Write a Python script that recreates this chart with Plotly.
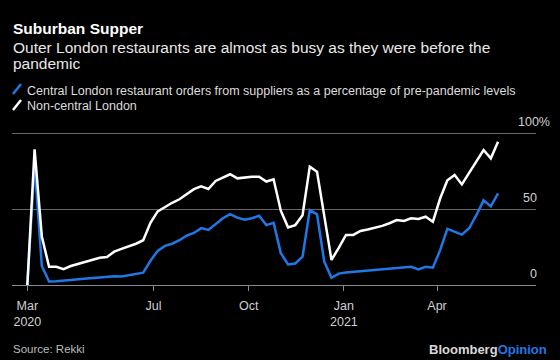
import pandas as pd
import plotly.graph_objects as go

# ---- data (weekly, % of pre-pandemic levels) ----
start_date = "2020-03-01"
central = [0, 80, 12.5, 2.3, 2.5, 3, 3.3, 3.8, 4.2, 4.6,
           5, 5.5, 5.8, 5.6, 6.5, 7.5, 8.1, 16, 22.5, 25.8,
           27.2, 29.5, 32.5, 34.3, 37.5, 36.3, 40, 44, 46.7, 44.4,
           43, 44, 45.6, 39.5, 41, 21, 13.6, 14.2, 18.7, 49.4,
           46.6, 15.4, 4.8, 7.5, 8.3, 8.7, 9.4, 9.9, 10.3, 10.5,
           11.2, 11.4, 11.6, 12, 10.3, 12, 11.4, 23, 37, 35.3,
           33.2, 37.4, 46, 55.8, 51.8, 60.4]
noncentral = [0, 89.5, 32, 12, 12, 10.5, 12.5, 13.8, 15.4, 16.9,
              18, 18.5, 22, 23.8, 25.5, 27.2, 29.5, 41, 48.5, 51.6,
              54.2, 56.5, 60, 63.2, 65, 63.3, 68.6, 70.6, 73, 70.3,
              71, 71.4, 71.4, 68.2, 69.7, 49, 38, 39.5, 46, 78,
              74.7, 45, 16.5, 24.5, 33, 33, 35.6, 36.6, 37.6, 39,
              40.7, 42.8, 42.2, 44, 43.5, 45, 41.7, 57, 69, 72.5,
              66.3, 74, 81, 89, 83.5, 94.5]
dates = pd.date_range(start=start_date, periods=len(central), freq="7D")

tick_vals = ["2020-03-01", "2020-07-01", "2020-10-01", "2021-01-01", "2021-04-01"]
tick_text = ["Mar<br>2020", "Jul", "Oct", "Jan<br>2021", "Apr"]
y_ticks = [0, 50, 100]
y_labels = ["0", "50", "100%"]

title = "Suburban Supper"
subtitle_lines = ["Outer London restaurants are almost as busy as they were before the",
                  "pandemic"]
legend_central = "Central London restaurant orders from suppliers as a percentage of pre-pandemic levels"
legend_noncentral = "Non-central London"
source = "Source: Rekki"

BLUE = "#1f78e6"
FONT = "Liberation Sans, Arial, sans-serif"

W, H = 560, 360
L, R, T, B = 12, 24, 132, 75
PW, PH = W - L - R, H - T - B
Y_MAX = 100 * (H - B - T) / (285 - 133.3)


def px(x):
    return (x - L) / PW


def py(y):
    return (H - B - y) / PH


fig = go.Figure()
fig.add_trace(go.Scatter(x=dates, y=central, mode="lines",
                         line=dict(color=BLUE, width=2.5), name="Central"))
fig.add_trace(go.Scatter(x=dates, y=noncentral, mode="lines",
                         line=dict(color="#ffffff", width=2.5), name="Non-central"))

annotations = [
    dict(text="<b>" + title + "</b>", x=px(11), y=py(29), xanchor="left", yanchor="middle",
         font=dict(size=15.5, color="#ffffff", family=FONT)),
    dict(text=subtitle_lines[0], x=px(11), y=py(47), xanchor="left", yanchor="middle",
         font=dict(size=15.5, color="#e8e8e8", family=FONT)),
    dict(text=subtitle_lines[1], x=px(11), y=py(63.5), xanchor="left", yanchor="middle",
         font=dict(size=15.5, color="#e8e8e8", family=FONT)),
    dict(text=legend_central, x=px(25), y=py(90.5), xanchor="left", yanchor="middle",
         font=dict(size=12.5, color="#dcdcdc", family=FONT)),
    dict(text=legend_noncentral, x=px(25), y=py(106.5), xanchor="left", yanchor="middle",
         font=dict(size=12.5, color="#dcdcdc", family=FONT)),
    dict(text=source, x=px(11), y=py(348.5), xanchor="left", yanchor="middle",
         font=dict(size=11.5, color="#bdbdbd", family=FONT)),
    dict(text="<b><span style='color:#d8d8d8'>Bloomberg</span><span style='color:#1f78e6'>Opinion</span></b>",
         x=px(549), y=py(349.5), xanchor="right", yanchor="middle",
         font=dict(size=13, color="#d8d8d8", family=FONT)),
]
for v, lab in zip(y_ticks, y_labels):
    if lab.endswith("%"):
        annotations.append(dict(text=lab, xref="paper", yref="y", x=px(515.5), y=v,
                                xanchor="left", yanchor="bottom", yshift=2, showarrow=False,
                                font=dict(size=12.5, color="#d0d0d0", family=FONT)))
    else:
        annotations.append(dict(text=lab, xref="paper", yref="y", x=px(538.5), y=v,
                                xanchor="right", yanchor="bottom", yshift=2, showarrow=False,
                                font=dict(size=12.5, color="#d0d0d0", family=FONT)))
for a in annotations:
    a.setdefault("xref", "paper")
    a.setdefault("yref", "paper")
    a.setdefault("showarrow", False)

shapes = [
    dict(type="line", xref="paper", yref="paper", x0=px(13), y0=py(94), x1=px(21), y1=py(84),
         line=dict(color=BLUE, width=2.5)),
    dict(type="line", xref="paper", yref="paper", x0=px(13), y0=py(110), x1=px(21), y1=py(100),
         line=dict(color="#ffffff", width=2.5)),
]

fig.update_layout(
    width=W, height=H,
    margin=dict(l=L, r=R, t=T, b=B, pad=0),
    paper_bgcolor="#000000", plot_bgcolor="#000000",
    showlegend=False,
    annotations=annotations,
    shapes=shapes,
    xaxis=dict(
        type="date", range=["2020-02-15 04:00", "2021-07-05 16:00"],
        tickvals=tick_vals, ticktext=tick_text,
        ticks="outside", ticklen=5, tickcolor="#8a8a8a", tickwidth=1,
        ticklabelstandoff=4,
        showline=True, linecolor="#8a8a8a", linewidth=1,
        showgrid=False, zeroline=False,
        tickfont=dict(size=12.5, color="#d0d0d0", family=FONT),
    ),
    yaxis=dict(
        range=[0, Y_MAX], tickvals=y_ticks, showticklabels=False,
        showgrid=True, gridcolor="#666666", gridwidth=1, zeroline=False,
        side="right", fixedrange=True,
    ),
)

fig.write_html(
    "out.html",
    config={"displayModeBar": False},
    post_script="document.body.style.margin='0';document.body.style.overflow='hidden';"
                "document.documentElement.style.overflow='hidden';",
)
